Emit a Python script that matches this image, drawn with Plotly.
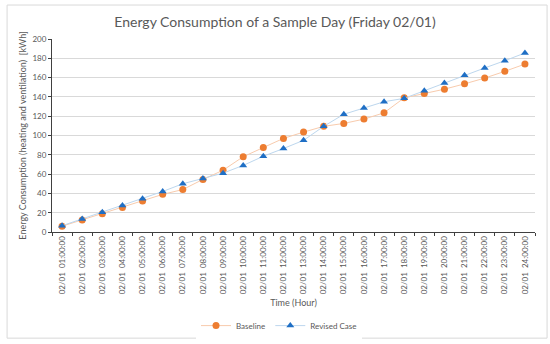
import plotly.graph_objects as go

hours = [f"02/01\u00a0\u00a0{h:02d}:00:00" for h in range(1, 25)]
baseline = [6, 12.5, 19, 25.5, 32, 39, 44, 54.5, 64, 78, 87.5, 97,
            103.5, 109.5, 112.5, 117, 123.5, 139, 143.5, 148, 153.5, 159.5, 166.5, 174]
revised = [6.5, 13.5, 20.5, 27.5, 34.5, 42, 50, 55.5, 61, 69, 78.5, 86.5,
           95, 109.5, 122, 128.5, 135, 138.5, 146.5, 154.5, 162.5, 170, 177.5, 185.5]

fig = go.Figure()
fig.add_trace(go.Scatter(
    x=hours, y=baseline, name="Baseline", mode="lines+markers",
    line=dict(color="#F8CBAD", width=1),
    marker=dict(color="#ED7D31", size=7, symbol="circle"),
))
fig.add_trace(go.Scatter(
    x=hours, y=revised, name="Revised Case", mode="lines+markers",
    line=dict(color="#BDD7EE", width=1),
    marker=dict(color="#1F6FC5", size=7, symbol="triangle-up"),
))

fig.update_layout(
    width=550, height=344,
    margin=dict(l=52, r=15, t=39, b=112, autoexpand=False),
    paper_bgcolor="white", plot_bgcolor="white",
    font=dict(family="Lato, Open Sans, sans-serif", color="#595959", size=9),
    title=dict(text="Energy Consumption of a Sample Day (Friday 02/01)",
               x=0.5, xanchor="center", y=0.935, yanchor="middle",
               font=dict(size=14, color="#595959")),
    showlegend=True,
    legend=dict(orientation="h", x=0.47, xanchor="center", y=-0.485, yanchor="middle",
                font=dict(size=8, color="#595959")),
    xaxis=dict(
        type="category", range=[-0.5, len(hours) - 0.5],
        tickangle=-90, tickfont=dict(size=8, color="#595959"),
        showline=True, linecolor="#404040", linewidth=1, automargin=False,
        ticks="outside", tickson="boundaries", ticklen=3, tickcolor="#404040",
        showgrid=False,
        title=dict(text="Time (Hour)", font=dict(size=9, color="#595959"), standoff=6),
    ),
    yaxis=dict(
        range=[0, 200], dtick=20, tickfont=dict(size=8, color="#595959"),
        showline=True, linecolor="#404040", linewidth=1, automargin=False,
        ticks="outside", ticklen=3, tickcolor="#404040",
        gridcolor="#D9D9D9", gridwidth=1, zeroline=False,
        title=dict(text="Energy Consumption (heating and ventilation)  [kWh]",
                   font=dict(size=9, color="#595959"), standoff=4),
    ),
    shapes=[dict(type="rect", xref="paper", yref="paper",
                 x0=-0.093, x1=1.025, y0=-0.55, y1=1.176,
                 line=dict(color="#D9D9D9", width=1), layer="below")],
)

fig.write_html("out.html", config={"displayModeBar": False},
               post_script="document.body.style.margin='0px';")
